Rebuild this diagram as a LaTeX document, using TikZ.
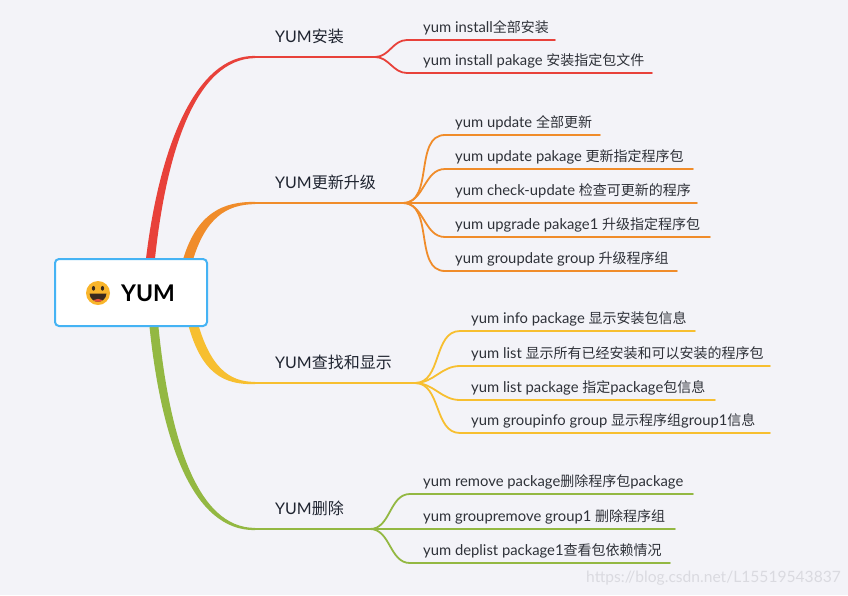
\documentclass[tikz,border=0pt]{standalone}
\usepackage{fontspec}
\setmainfont{Lato}
\newfontfamily\zhfont{Noto Sans CJK SC}
\def\zhsz{14}
\newcommand\zh[1]{{\zhfont\fontsize{\zhsz}{17}\selectfont #1}}
\definecolor{bg}{HTML}{F3F3F8}
\definecolor{cred}{HTML}{E8413A}
\definecolor{corange}{HTML}{F08C2A}
\definecolor{cyellow}{HTML}{F7BF30}
\definecolor{cgreen}{HTML}{93B842}
\definecolor{cblue}{HTML}{45B3F4}
\definecolor{txt1}{HTML}{1F2430}
\definecolor{txt2}{HTML}{2E3138}
\definecolor{wmark}{HTML}{DADAE0}
\definecolor{emo}{HTML}{F9B52B}
\definecolor{emodark}{HTML}{3A2A1E}
\definecolor{tongue}{HTML}{E8503F}
\begin{document}
\begin{tikzpicture}[x=1pt,y=-1pt,
  rootbox/.style={draw=cblue,line width=2pt,fill=white,rounded corners=4pt,minimum width=152pt,minimum height=67pt,inner sep=0pt},
  lvlone/.style={anchor=base west,inner sep=0pt,text=txt1,font=\fontsize{16}{19}\selectfont\def\zhsz{16}},
  lvltwo/.style={anchor=base west,inner sep=0pt,text=txt2,font=\fontsize{14.8}{17}\selectfont\def\zhsz{14}},
  kidline/.style={line width=1.8pt,line cap=round},
  stem/.style={line width=2pt},
  sflow/.style={out=0,in=180}]
\useasboundingbox (0,0) rectangle (848,595);
\fill[bg] (0,0) rectangle (848,595);

% ---- main tapered branches
\fill[cred] (145.5,263) .. controls (158.5,149) and (195,55) .. (255,55.9)
  -- (255,58.1) .. controls (196,59) and (166,151) .. (154.5,263) -- cycle;
\fill[corange] (182,263) .. controls (196,212) and (224,201.5) .. (255,201.9)
  -- (255,204.1) .. controls (226,204.5) and (205,218) .. (192,263) -- cycle;
\fill[cyellow] (197.5,322) .. controls (210,366) and (228,381.9) .. (255,381.9)
  -- (255,384.1) .. controls (224,385) and (201,374) .. (187.5,322) -- cycle;
\fill[cgreen] (158,322) .. controls (169,438) and (197,527.9) .. (255,527.9)
  -- (255,530.1) .. controls (193,531) and (161,442) .. (149,322) -- cycle;

% ---- root
\node[rootbox] (root) at (131,292.5) {};
\node[anchor=base west,inner sep=0pt,text=black,font=\fontsize{23}{27}\selectfont\bfseries] (rootlabel) at (121,301) {YUM};
% emoji
\fill[emo] (98,293) circle[radius=12pt];
\fill[emodark] (93.5,288.3) ellipse[x radius=1.6pt,y radius=2.4pt];
\fill[emodark] (102.5,288.3) ellipse[x radius=1.6pt,y radius=2.4pt];
\fill[emodark] (89.5,293.5) .. controls (90.5,304.5) and (105.5,304.5) .. (106.5,293.5) -- cycle;
\begin{scope}
\clip (89.5,293.5) .. controls (90.5,304.5) and (105.5,304.5) .. (106.5,293.5) -- cycle;
\fill[tongue] (98,302.5) ellipse[x radius=5.5pt,y radius=3.6pt];
\end{scope}

% ---- level one labels and stems
\coordinate (s1) at (254,57);  \coordinate (f1) at (375,57);
\coordinate (s2) at (254,203); \coordinate (f2) at (403,203);
\coordinate (s3) at (254,383); \coordinate (f3) at (415,383);
\coordinate (s4) at (254,529); \coordinate (f4) at (370,529);
\draw[stem,cred] (s1) -- (f1);
\draw[stem,corange] (s2) -- (f2);
\draw[stem,cyellow] (s3) -- (f3);
\draw[stem,cgreen] (s4) -- (f4);
\node[lvlone] (b1) at (275,42) {YUM\zh{安装}};
\node[lvlone] (b2) at (275,188) {YUM\zh{更新升级}};
\node[lvlone] (b3) at (275,368) {YUM\zh{查找和显示}};
\node[lvlone] (b4) at (275,514) {YUM\zh{删除}};

% ---- red children
\coordinate (k11) at (407,40); \coordinate (e11) at (555,40);
\coordinate (k12) at (407,73); \coordinate (e12) at (652,73);
\draw[kidline,cred] (f1) to[sflow] (k11) -- (e11);
\draw[kidline,cred] (f1) to[sflow] (k12) -- (e12);
\node[lvltwo] (c11) at (423,32) {yum install\zh{全部安装}};
\node[lvltwo] (c12) at (423,65) {yum install pakage \zh{安装指定包文件}};

% ---- orange children
\coordinate (k21) at (445,135); \coordinate (e21) at (600,135);
\coordinate (k22) at (445,169); \coordinate (e22) at (693,169);
\coordinate (k23) at (445,203); \coordinate (e23) at (697,203);
\coordinate (k24) at (445,237); \coordinate (e24) at (710,237);
\coordinate (k25) at (445,271); \coordinate (e25) at (677,271);
\draw[kidline,corange] (f2) to[sflow] (k21) -- (e21);
\draw[kidline,corange] (f2) to[sflow] (k22) -- (e22);
\draw[kidline,corange] (f2) -- (e23);
\draw[kidline,corange] (f2) to[sflow] (k24) -- (e24);
\draw[kidline,corange] (f2) to[sflow] (k25) -- (e25);
\node[lvltwo] (c21) at (455,127) {yum update \zh{全部更新}};
\node[lvltwo] (c22) at (455,161) {yum update pakage \zh{更新指定程序包}};
\node[lvltwo] (c23) at (455,195) {yum check-update \zh{检查可更新的程序}};
\node[lvltwo] (c24) at (455,229) {yum upgrade pakage1 \zh{升级指定程序包}};
\node[lvltwo] (c25) at (455,263) {yum groupdate group \zh{升级程序组}};

% ---- yellow children
\coordinate (k31) at (460,331); \coordinate (e31) at (695,331);
\coordinate (k32) at (460,366); \coordinate (e32) at (770,366);
\coordinate (k33) at (460,400); \coordinate (e33) at (715,400);
\coordinate (k34) at (460,433); \coordinate (e34) at (770,433);
\draw[kidline,cyellow] (f3) to[sflow] (k31) -- (e31);
\draw[kidline,cyellow] (f3) to[sflow] (k32) -- (e32);
\draw[kidline,cyellow] (f3) to[sflow] (k33) -- (e33);
\draw[kidline,cyellow] (f3) to[sflow] (k34) -- (e34);
\node[lvltwo] (c31) at (471,323) {yum info package \zh{显示安装包信息}};
\node[lvltwo] (c32) at (471,358) {yum list \zh{显示所有已经安装和可以安装的程序包}};
\node[lvltwo] (c33) at (471,392) {yum list package \zh{指定}package\zh{包信息}};
\node[lvltwo] (c34) at (471,425) {yum groupinfo group \zh{显示程序组}group1\zh{信息}};

% ---- green children
\coordinate (k41) at (410,494); \coordinate (e41) at (693,494);
\coordinate (e42) at (675,529);
\coordinate (k43) at (410,563); \coordinate (e43) at (670,563);
\draw[kidline,cgreen] (f4) to[sflow] (k41) -- (e41);
\draw[kidline,cgreen] (f4) -- (e42);
\draw[kidline,cgreen] (f4) to[sflow] (k43) -- (e43);
\node[lvltwo] (c41) at (423,486) {yum remove package\zh{删除程序包}package};
\node[lvltwo] (c42) at (423,521) {yum groupremove group1 \zh{删除程序组}};
\node[lvltwo] (c43) at (423,555) {yum deplist package1\zh{查看包依赖情况}};

% ---- watermark
\node[anchor=base west,inner sep=0pt,text=wmark,font=\fontsize{15.6}{18}\selectfont] (wm) at (586,582) {https://blog.csdn.net/L15519543837};
\end{tikzpicture}
\end{document}
